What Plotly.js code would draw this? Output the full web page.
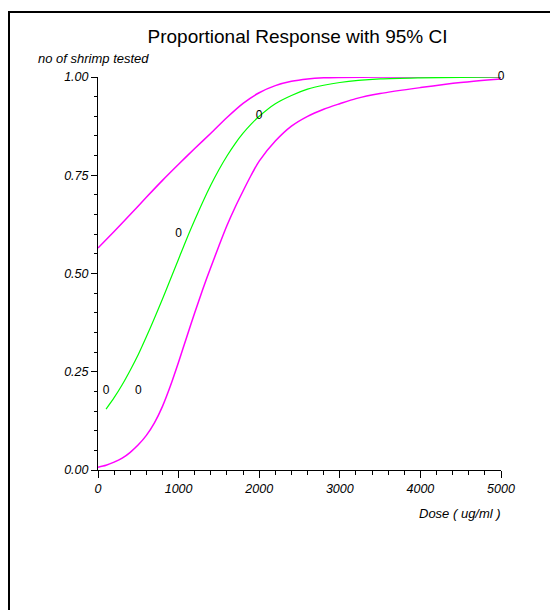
<!DOCTYPE html>
<html>
<head>
<meta charset="utf-8">
<script src="https://cdn.plot.ly/plotly-3.0.1.min.js"></script>
<style>
  html, body { margin: 0; padding: 0; background: #fff; overflow: hidden; }
  #chart { position: absolute; left: 0; top: 0; width: 550px; height: 610px; }
  #frame { position: absolute; left: 8px; top: 11px; width: 700px; height: 800px;
           border-left: 2px solid #000; border-top: 2px solid #000; pointer-events: none; }
</style>
</head>
<body>
<div id="chart"></div>
<div id="frame"></div>
<script>
// Observed proportions
var obsDose = [100, 500, 1000, 2000, 5000];
var obsResp = [0.2, 0.2, 0.6, 0.9, 1.0];

// Fitted curve (green)
var fitDose = [100, 200, 300, 400, 500, 600, 700, 800, 900, 1000, 1100, 1200, 1300, 1400, 1500,
               1600, 1700, 1800, 1900, 2000, 2200, 2400, 2600, 2800, 3000, 3500, 4000, 4500, 5000];
var fitResp = [0.155, 0.184, 0.217, 0.254, 0.294, 0.339, 0.386, 0.435, 0.486, 0.537, 0.588, 0.636,
               0.682, 0.725, 0.764, 0.799, 0.830, 0.857, 0.880, 0.900, 0.932, 0.953, 0.969, 0.979,
               0.986, 0.995, 0.998, 0.999, 1.0];

// Upper 95% CI (magenta)
var upDose = [0, 200, 400, 600, 800, 1000, 1200, 1400, 1600, 1800, 2000, 2200, 2400, 2600, 2800,
              3000, 3500, 4000, 4500, 5000];
var upResp = [0.565, 0.607, 0.650, 0.694, 0.737, 0.778, 0.818, 0.857, 0.897, 0.933, 0.960, 0.978,
              0.989, 0.995, 0.998, 0.999, 1.0, 1.0, 1.0, 1.0];

// Lower 95% CI (magenta)
var loDose = [0, 100, 200, 300, 400, 500, 600, 700, 800, 900, 1000, 1100, 1200, 1300, 1400, 1500,
              1600, 1700, 1800, 1900, 2000, 2200, 2400, 2600, 2800, 3000, 3200, 3500, 4000, 4500, 5000];
var loResp = [0.007, 0.012, 0.020, 0.030, 0.045, 0.064, 0.088, 0.120, 0.162, 0.215, 0.275, 0.338,
              0.400, 0.460, 0.516, 0.570, 0.622, 0.668, 0.710, 0.750, 0.786, 0.837, 0.875, 0.900,
              0.918, 0.932, 0.945, 0.958, 0.973, 0.986, 0.995];

var chartTitle = "Proportional Response with 95% CI";
var yTitle = "no of shrimp tested";
var xTitle = "Dose ( ug/ml )";

var FONT = "Liberation Sans, Arial, sans-serif";

var traces = [
  { x: upDose, y: upResp, mode: "lines", line: { color: "#ff00ff", width: 1.5, shape: "spline", smoothing: 0.8 }, hoverinfo: "skip" },
  { x: loDose, y: loResp, mode: "lines", line: { color: "#ff00ff", width: 1.5, shape: "spline", smoothing: 0.8 }, hoverinfo: "skip" },
  { x: fitDose, y: fitResp, mode: "lines", line: { color: "#00ff00", width: 1.2, shape: "spline", smoothing: 0.8 }, hoverinfo: "skip" },
  { x: obsDose, y: obsResp, mode: "text", text: obsDose.map(function () { return "0"; }),
    textposition: "middle center", textfont: { family: FONT, size: 12, color: "#000" },
    cliponaxis: false, hoverinfo: "skip" }
];

var layout = {
  width: 550, height: 610,
  margin: { l: 98, r: 49, t: 77, b: 140, pad: 0 },
  paper_bgcolor: "#fff", plot_bgcolor: "#fff",
  showlegend: false,
  font: { family: FONT, color: "#000" },
  title: { text: chartTitle, font: { family: FONT, size: 19, color: "#000" },
           xref: "paper", x: 0.495, xanchor: "center", yref: "container", y: 1 - 36 / 610, yanchor: "middle" },
  xaxis: {
    range: [0, 5000], showgrid: false, zeroline: false,
    showline: true, linecolor: "#000", linewidth: 1,
    ticks: "outside", ticklen: 7, tickwidth: 1, tickcolor: "#000",
    dtick: 1000, tick0: 0, tickformat: "d",
    tickfont: { family: FONT, size: 12.5, color: "#000", style: "italic" },
    minor: { dtick: 200, tick0: 0, ticks: "outside", ticklen: 4, tickwidth: 1, tickcolor: "#000", showgrid: false }
  },
  yaxis: {
    range: [0, 1], showgrid: false, zeroline: false,
    showline: true, linecolor: "#000", linewidth: 1,
    ticks: "outside", ticklen: 6, tickwidth: 1, tickcolor: "#000",
    dtick: 0.25, tick0: 0, tickformat: ".2f",
    tickfont: { family: FONT, size: 12.5, color: "#000", style: "italic" },
    minor: { dtick: 0.05, tick0: 0, ticks: "outside", ticklen: 3, tickwidth: 1, tickcolor: "#000", showgrid: false }
  },
  annotations: [
    { text: yTitle, xref: "paper", yref: "paper", x: (36 - 98) / 403, y: (470 - 59) / 393,
      xanchor: "left", yanchor: "middle", showarrow: false,
      font: { family: FONT, size: 13, color: "#000", style: "italic" } },
    { text: xTitle, xref: "paper", yref: "paper", x: (503 - 98) / 403, y: (470 - 513) / 393,
      xanchor: "right", yanchor: "middle", showarrow: false,
      font: { family: FONT, size: 13, color: "#000", style: "italic" } }
  ]
};

Plotly.newPlot("chart", traces, layout, { displayModeBar: false, staticPlot: true });
</script>
</body>
</html>
